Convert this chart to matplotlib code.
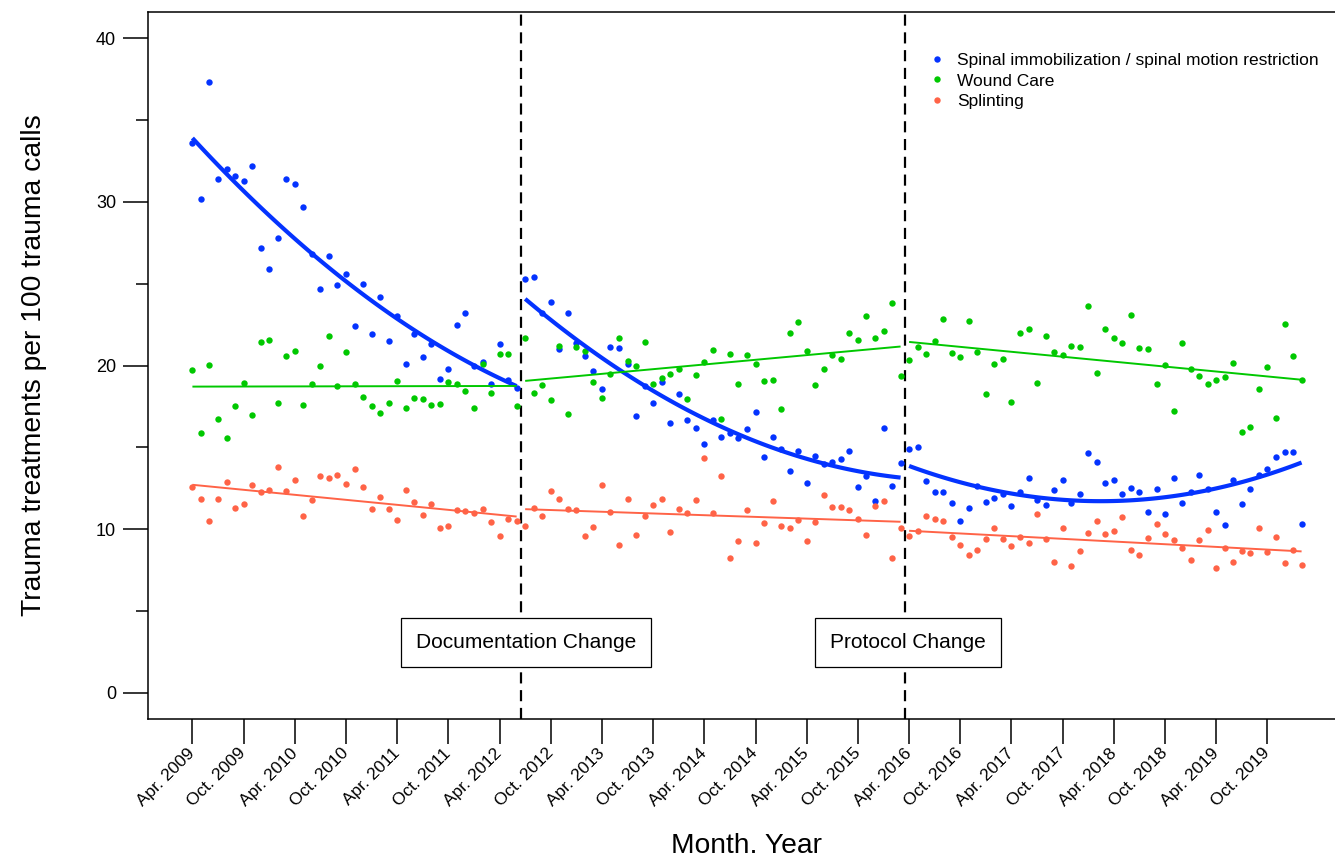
import numpy as np
import matplotlib
matplotlib.use("Agg")
import matplotlib.pyplot as plt
import matplotlib.transforms as mtransforms
from matplotlib.ticker import MultipleLocator

plt.rcParams["font.family"] = ["Liberation Sans", "DejaVu Sans"]

# monthly rates, Apr 2009 .. Feb 2020 (month index 0 = Apr 2009)
spinal = [
    33.6, 30.2, 37.3, 31.4, 32.0, 31.6, 31.3, 32.2, 27.2, 25.9,
    27.8, 31.4, 31.1, 29.7, 26.8, 24.7, 26.7, 24.9, 25.6, 22.4,
    25.0, 21.9, 24.2, 21.5, 23.0, 20.1, 21.9, 20.5, 21.3, 19.2,
    19.8, 22.5, 23.2, 20.0, 20.2, 18.9, 21.3, 19.1, 18.6,
    25.3, 25.4, 23.2, 23.9, 21.0, 23.2, 21.4, 20.6, 19.65, 18.54,
    21.1, 21.08, 20.1, 16.9, 18.74, 17.7, 19.0, 16.5, 18.27, 16.7,
    16.2, 15.2, 16.7, 15.65, 15.9, 15.6, 16.1, 17.15, 14.4, 15.65,
    14.9, 13.55, 14.8, 12.85, 14.47, 13.98, 14.13, 14.31, 14.8, 12.6,
    13.25, 11.75, 16.16, 12.66, 14.04,
    14.88, 15.04, 12.95, 12.28, 12.28, 11.57, 10.51, 11.32, 12.64, 11.67,
    11.89, 12.16, 11.42, 12.28, 13.13, 11.81, 11.48, 12.38, 13.03, 11.6,
    12.16, 14.63, 14.13, 12.79, 12.99, 12.13, 12.52, 12.26, 11.04, 12.46,
    10.9, 13.13, 11.59, 12.3, 13.33, 12.44, 11.04, 10.26, 12.99, 11.54,
    12.48, 13.29, 13.66, 14.41, 14.74, 14.74, 10.3,
]
wound = [
    19.7, 15.86, 20.06, 16.76, 15.6, 17.5, 18.93, 16.97, 21.44, 21.55,
    17.73, 20.58, 20.9, 17.58, 18.88, 19.99, 21.78, 18.74, 20.85, 18.9,
    18.05, 17.5, 17.09, 17.7, 19.05, 17.42, 18.03, 17.97, 17.6, 17.66,
    19.0, 18.9, 18.43, 17.42, 20.1, 18.35, 20.69, 20.71, 17.54,
    21.69, 18.33, 18.8, 17.89, 21.22, 17.01, 21.16, 20.87, 19.0, 18.03,
    19.51, 21.67, 20.3, 19.94, 21.46, 18.84, 19.23, 19.51, 19.8, 17.95,
    19.41, 20.2, 20.93, 16.75, 20.71, 18.86, 20.67, 20.1, 19.06, 19.09,
    17.36, 22.01, 22.68, 20.91, 18.82, 19.76, 20.63, 20.37, 22.01, 21.55,
    23.01, 21.69, 22.13, 23.82, 19.33,
    20.33, 21.1, 20.69, 21.48, 22.83, 20.79, 20.49, 22.72, 20.83, 18.23,
    20.08, 20.41, 17.78, 21.99, 22.2, 18.96, 21.79, 20.85, 20.65, 21.22,
    21.14, 23.66, 19.53, 22.24, 21.71, 21.38, 23.07, 21.06, 20.98, 18.84,
    20.02, 17.2, 21.38, 19.76, 19.35, 18.88, 19.1, 19.31, 20.14, 15.96,
    16.22, 18.56, 19.9, 16.79, 22.52, 20.55, 19.1,
]
splint = [
    12.58, 11.87, 10.5, 11.87, 12.88, 11.3, 11.55, 12.71, 12.29, 12.41,
    13.82, 12.35, 13.02, 10.82, 11.76, 13.27, 13.15, 13.3, 12.77, 13.65,
    12.6, 11.22, 11.97, 11.24, 10.57, 12.4, 11.67, 10.85, 11.56, 10.08,
    10.22, 11.16, 11.12, 11.0, 11.26, 10.41, 9.61, 10.61, 10.47,
    10.22, 11.32, 10.79, 12.34, 11.85, 11.22, 11.18, 9.59, 10.16, 12.68,
    11.06, 9.06, 11.87, 9.67, 10.81, 11.48, 11.87, 9.8, 11.24, 10.96,
    11.79, 14.35, 10.96, 13.25, 8.25, 9.29, 11.14, 9.17, 10.35, 11.71,
    10.2, 10.1, 10.55, 9.25, 10.41, 12.07, 11.36, 11.36, 11.18, 10.61,
    9.63, 11.4, 11.69, 8.25, 10.04,
    9.57, 9.9, 10.81, 10.65, 10.49, 9.53, 9.02, 8.39, 8.74, 9.39,
    10.06, 9.41, 8.96, 9.51, 9.13, 10.93, 9.37, 7.99, 10.06, 7.74,
    8.68, 9.76, 10.51, 9.72, 9.88, 10.73, 8.74, 8.45, 9.43, 10.3,
    9.72, 9.33, 8.86, 8.11, 9.33, 9.96, 7.6, 8.82, 7.97, 8.68,
    8.56, 10.04, 8.58, 9.51, 7.95, 8.72, 7.8,
]

# fitted model trend per segment (start, middle, end)
spinal_trend = [(33.9, 24.74, 18.74), (24.07, 16.5, 13.15), (13.86, 11.71, 14.07)]
wound_trend = [(18.71, 18.75), (19.06, 21.16), (21.44, 19.13)]
splint_trend = [(12.71, 10.77), (11.22, 10.45), (9.9, 8.64)]

tick_labels = [
    "Apr. 2009", "Oct. 2009", "Apr. 2010", "Oct. 2010", "Apr. 2011", "Oct. 2011",
    "Apr. 2012", "Oct. 2012", "Apr. 2013", "Oct. 2013", "Apr. 2014", "Oct. 2014",
    "Apr. 2015", "Oct. 2015", "Apr. 2016", "Oct. 2016", "Apr. 2017", "Oct. 2017",
    "Apr. 2018", "Oct. 2018", "Apr. 2019", "Oct. 2019",
]

doc_change = 38.5        # between Jun and Jul 2012
protocol_change = 83.5   # between Mar and Apr 2016

BLUE = "#0433ff"
GREEN = "#00c800"
RED = "#ff6347"

series = [
    ("Spinal immobilization / spinal motion restriction", spinal, spinal_trend, BLUE, 3.0),
    ("Wound Care", wound, wound_trend, GREEN, 1.4),
    ("Splinting", splint, splint_trend, RED, 1.4),
]

t = np.arange(len(spinal))
segments = [t[t <= doc_change],
            t[(t > doc_change) & (t <= protocol_change)],
            t[t > protocol_change]]

fig = plt.figure(figsize=(13.35, 8.6), dpi=100)
ax = fig.add_axes([0.1109, 0.164, 0.8973, 0.822])

for label, vals, trend, color, lw in series:
    ax.plot(t, vals, "o", ms=4.6, color=color, mec="none", label=label, zorder=3)
    for seg, knots in zip(segments, trend):
        kx = np.linspace(seg[0], seg[-1], len(knots))
        coef = np.polyfit(kx, knots, len(knots) - 1)
        ts = np.linspace(seg[0], seg[-1], 120)
        ax.plot(ts, np.polyval(coef, ts), color=color, lw=lw, zorder=4,
                solid_capstyle="butt")

for xc in (doc_change, protocol_change):
    ax.axvline(xc, color="black", lw=1.6, ls=(0, (5, 3)), zorder=2)

box = dict(boxstyle="square,pad=0.72", fc="white", ec="black", lw=0.9)
ax.text(39.06, 3.05, "Documentation Change", ha="center", va="center",
        fontsize=15, bbox=box, zorder=6)
ax.text(83.9, 3.05, "Protocol Change", ha="center", va="center",
        fontsize=15, bbox=box, zorder=6)

ax.set_xlim(-5.2, 135.2)
ax.set_ylim(-1.6, 41.6)
ax.set_xticks(np.arange(0, 127, 6))
ax.set_xticklabels(tick_labels, rotation=45, ha="right", va="center",
                   rotation_mode="anchor", fontsize=12.5)
shift = mtransforms.ScaledTranslation(0.08, 0, fig.dpi_scale_trans)
for lab in ax.get_xticklabels():
    lab.set_transform(lab.get_transform() + shift)
ax.set_yticks([0, 10, 20, 30, 40])
ax.yaxis.set_minor_locator(MultipleLocator(5))
ax.tick_params(axis="y", labelsize=13)
ax.tick_params(axis="both", which="major", direction="out", length=18,
               width=1.1, pad=5)
ax.tick_params(axis="x", pad=5)
ax.tick_params(axis="y", which="minor", direction="out", length=9, width=1.1)
for sp in ax.spines.values():
    sp.set_linewidth(1.1)

ax.set_xlabel("Month. Year", fontsize=20.3)
ax.set_ylabel("Trauma treatments per 100 trauma calls", fontsize=20.3)
ax.xaxis.set_label_coords(0.5, -0.161)
ax.yaxis.set_label_coords(-0.084, 0.5)

ax.legend(loc="upper left", bbox_to_anchor=(0.6528, 0.9425), frameon=False,
          fontsize=12.5, handlelength=0.8, handletextpad=0.75,
          labelspacing=0.32, borderaxespad=0, borderpad=0)

fig.savefig("out.png", dpi=100, facecolor="white")
